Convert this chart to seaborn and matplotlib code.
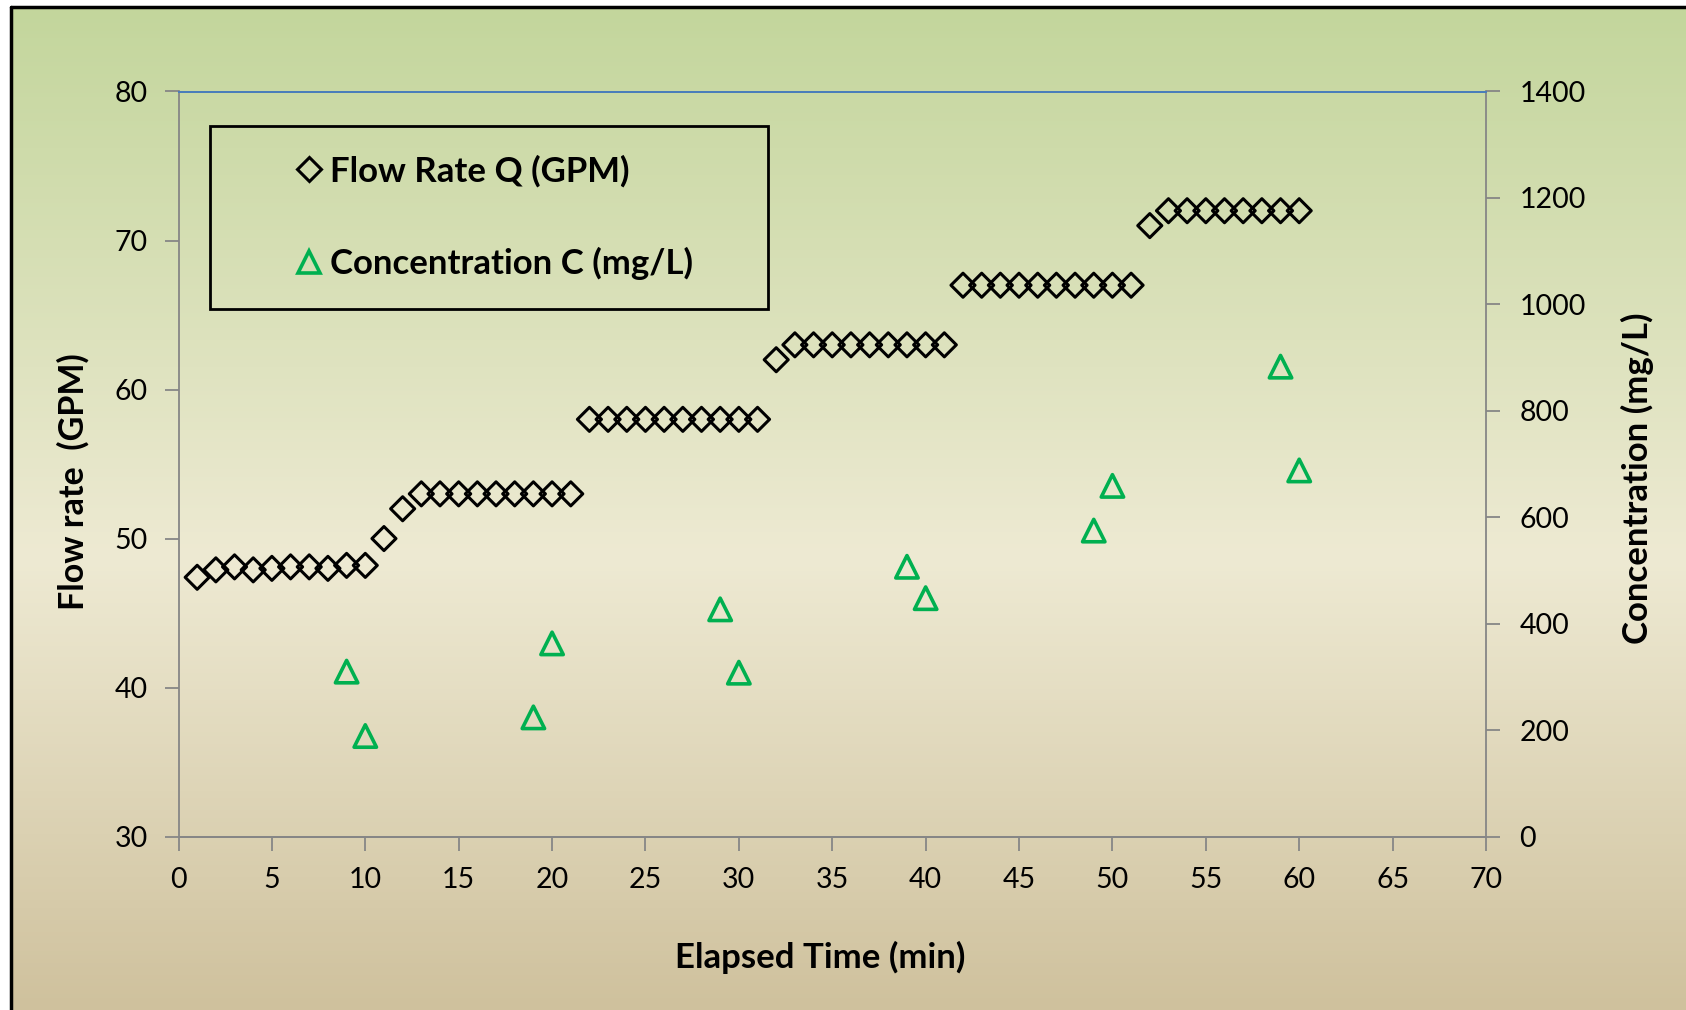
import numpy as np
import matplotlib
matplotlib.use("Agg")
import matplotlib.pyplot as plt
from matplotlib.lines import Line2D
from matplotlib.patches import Rectangle
from matplotlib.colors import LinearSegmentedColormap
import seaborn as sns

# Data
time_q = list(range(1, 61))
flow_rate = [47.4, 47.9, 48.1, 47.9, 48.0, 48.1, 48.1, 48.0, 48.2, 48.2,
             50, 52, 53, 53, 53, 53, 53, 53, 53, 53,
             53, 58, 58, 58, 58, 58, 58, 58, 58, 58,
             58, 62, 63, 63, 63, 63, 63, 63, 63, 63,
             63, 67, 67, 67, 67, 67, 67, 67, 67, 67,
             67, 71, 72, 72, 72, 72, 72, 72, 72, 72]
time_c = [9, 10, 19, 20, 29, 30, 39, 40, 49, 50, 59, 60]
concentration = [310, 189, 224, 363, 427, 308, 507, 448, 575, 659, 883, 688]

x_ticks = list(range(0, 75, 5))
left_ticks = [30, 40, 50, 60, 70, 80]
right_ticks = [0, 200, 400, 600, 800, 1000, 1200, 1400]

sns.set_style("white")
plt.rcParams['font.family'] = ['Lato', 'DejaVu Sans']
plt.rcParams['text.color'] = 'black'
plt.rcParams['axes.labelcolor'] = 'black'
plt.rcParams['xtick.labelcolor'] = 'black'
plt.rcParams['ytick.labelcolor'] = 'black'

W, H = 1686, 1010
fig = plt.figure(figsize=(W / 100, H / 100), dpi=100)
fig.patch.set_facecolor("white")

# gradient background inside the outer border
bx0, by1 = 11 / W, 1 - 7 / H
bg = fig.add_axes([bx0, 0, 1 - bx0, by1], zorder=-10)
cmap = LinearSegmentedColormap.from_list(
    "bg", [(0.0, "#c3d69c"), (0.55, "#eeead3"), (1.0, "#cfc19d")])
grad = np.linspace(0, 1, 256).reshape(-1, 1)
bg.imshow(grad, aspect="auto", cmap=cmap, extent=[0, 1, 0, 1], origin="upper")
bg.axis("off")
fig.add_artist(Line2D([bx0, bx0], [0, by1], color="black", lw=2.5, transform=fig.transFigure))
fig.add_artist(Line2D([bx0, 1], [by1, by1], color="black", lw=2.5, transform=fig.transFigure))

left, right = 178.5 / W, 1486 / W
bottom, top = 1 - 836.6 / H, 1 - 91.5 / H
ax = fig.add_axes([left, bottom, right - left, top - bottom])
ax.patch.set_alpha(0)
ax2 = ax.twinx()
ax2.patch.set_alpha(0)

sns.scatterplot(x=time_q, y=flow_rate, ax=ax, marker="D", s=150,
                edgecolor="black", linewidth=2.2, zorder=3)
ax.collections[-1].set_facecolor("none")
sns.scatterplot(x=time_c, y=concentration, ax=ax2, marker="^", s=260,
                edgecolor="#00b050", linewidth=2.6, zorder=3)
ax2.collections[-1].set_facecolor("none")

ax.set_xlim(0, 70)
ax.set_ylim(30, 80)
ax2.set_ylim(0, 1400)
ax.set_xticks(x_ticks)
ax.set_yticks(left_ticks)
ax2.set_yticks(right_ticks)

grey = "#868686"
for a in (ax, ax2):
    for side in ("left", "right", "bottom"):
        a.spines[side].set_color(grey)
        a.spines[side].set_linewidth(1.3)
    a.spines["top"].set_color("#4a7ebb")
    a.spines["top"].set_linewidth(1.4)
ax.spines["right"].set_visible(False)
ax2.spines["left"].set_visible(False)

ax.tick_params(axis="both", direction="out", length=10, width=1.3, color=grey,
               labelsize=20.5, pad=12, left=True, bottom=True)
ax2.tick_params(axis="y", direction="out", length=10, width=1.3, color=grey,
                labelsize=20.5, pad=14, right=True)

ax.set_xlabel("Elapsed Time (min)", fontsize=25, fontweight="bold")
ax.set_ylabel("Flow rate  (GPM)", fontsize=24.5, fontweight="bold")
ax2.set_ylabel("Concentration (mg/L)", fontsize=25, fontweight="bold")
ax.xaxis.set_label_coords(0.4906, -0.1616)
ax.xaxis.label.set_va("center")
ax.yaxis.set_label_coords(-0.0807, 0.4762)
ax.yaxis.label.set_va("center")
ax2.yaxis.set_label_coords(1.1155, 0.4805)
ax2.yaxis.label.set_va("center")

# legend box
ax2.add_patch(Rectangle((0.0239, 0.7086), 0.427, 0.2454, transform=ax2.transAxes,
                        fill=False, edgecolor="black", lw=2, zorder=5))
handles = [
    Line2D([], [], ls="none", marker="D", ms=12, mfc="none", mec="black", mew=2.2),
    Line2D([], [], ls="none", marker="^", ms=16, mfc="none", mec="#00b050", mew=2.6),
]
leg = ax2.legend(handles, ["Flow Rate Q (GPM)", "Concentration C (mg/L)"],
                 loc="upper left", bbox_to_anchor=(0.0797, 0.9335), frameon=False,
                 handlelength=0.7, handletextpad=0.25, labelspacing=1.72,
                 prop={"size": 25, "weight": "bold"}, borderaxespad=0)

fig.savefig("out.png", dpi=100)
